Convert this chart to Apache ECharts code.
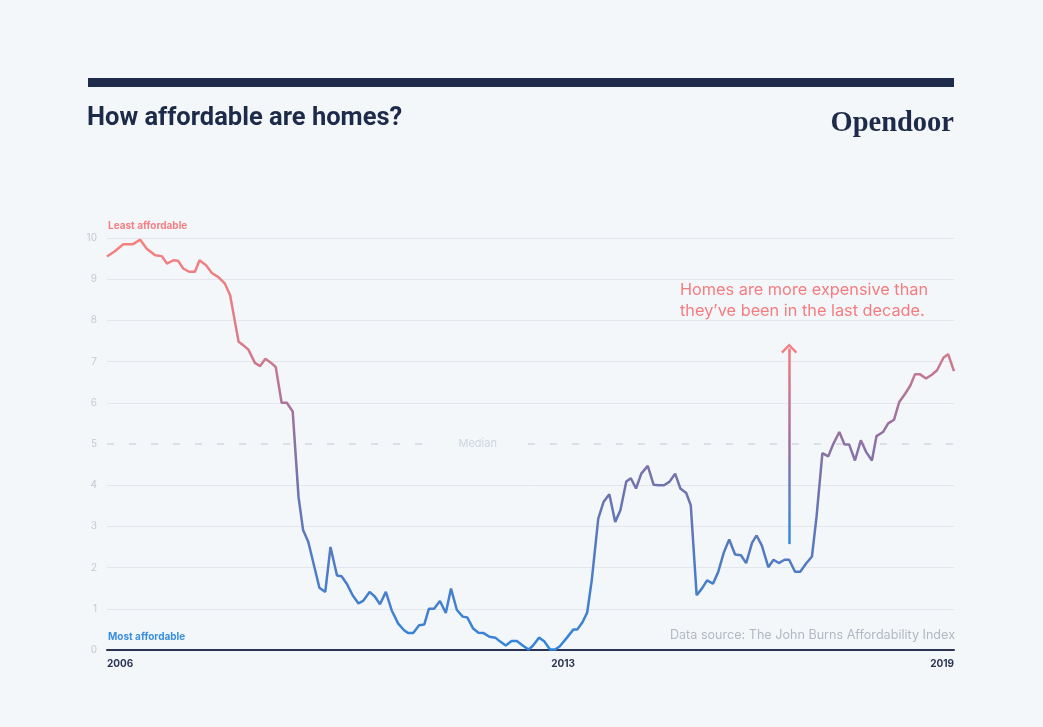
<!DOCTYPE html>
<html><head><meta charset="utf-8">
<script src="https://cdn.jsdelivr.net/npm/echarts@6/dist/echarts.min.js"></script>
<style>html,body{margin:0;padding:0;background:#f4f7fa;}#c{width:1043px;height:727px;}</style>
</head><body><div id="c"></div>
<script>
// Decimal years of each reading (Jan 2006 .. Jan 2019)
const dates = [
2006.00,2006.12,2006.25,2006.40,2006.51,2006.61,2006.74,2006.84,2006.92,2007.02,
2007.09,2007.17,2007.26,2007.35,2007.42,2007.52,2007.61,2007.71,2007.81,2007.89,
2007.96,2008.02,2008.09,2008.17,2008.27,2008.35,2008.43,2008.51,2008.59,2008.68,
2008.76,2008.85,2008.94,2009.01,2009.09,2009.17,2009.26,2009.35,2009.43,2009.53,
2009.60,2009.68,2009.77,2009.86,2009.93,2010.03,2010.11,2010.19,2010.28,2010.37,
2010.47,2010.56,2010.62,2010.70,2010.79,2010.87,2010.94,2011.02,2011.11,2011.20,
2011.28,2011.37,2011.46,2011.53,2011.62,2011.70,2011.78,2011.87,2011.96,2012.03,
2012.12,2012.21,2012.29,2012.38,2012.47,2012.54,2012.63,2012.71,2012.80,2012.88,
2012.95,2013.06,2013.16,2013.22,2013.30,2013.37,2013.44,2013.54,2013.62,2013.71,
2013.80,2013.88,2013.97,2014.04,2014.12,2014.20,2014.30,2014.39,2014.47,2014.55,
2014.63,2014.72,2014.80,2014.89,2014.96,2015.05,2015.13,2015.21,2015.30,2015.38,
2015.47,2015.55,2015.64,2015.73,2015.81,2015.90,2015.97,2016.05,2016.15,2016.23,
2016.31,2016.40,2016.47,2016.56,2016.64,2016.73,2016.82,2016.89,2016.98,2017.07,
2017.15,2017.24,2017.32,2017.39,2017.48,2017.57,2017.65,2017.74,2017.81,2017.91,
2017.99,2018.08,2018.16,2018.25,2018.33,2018.40,2018.48,2018.57,2018.66,2018.74,
2018.84,2018.91,2019.00
];
// John Burns Affordability Index readings
const values = [
9.55,9.68,9.85,9.85,9.96,9.74,9.58,9.56,9.38,9.46,
9.45,9.26,9.18,9.18,9.46,9.34,9.15,9.05,8.89,8.61,
8.00,7.48,7.40,7.29,6.97,6.89,7.07,6.98,6.87,6.00,
6.00,5.79,3.71,2.91,2.62,2.10,1.51,1.41,2.50,1.81,
1.79,1.61,1.33,1.13,1.19,1.41,1.30,1.11,1.41,0.96,
0.64,0.48,0.41,0.41,0.60,0.62,1.00,1.00,1.19,0.90,
1.49,0.97,0.81,0.79,0.52,0.42,0.41,0.32,0.30,0.21,
0.11,0.22,0.22,0.11,0.01,0.11,0.30,0.21,0.01,0.01,
0.09,0.30,0.50,0.50,0.68,0.91,1.69,3.19,3.59,3.78,
3.11,3.39,4.09,4.17,3.92,4.28,4.47,4.01,4.00,4.00,
4.08,4.28,3.92,3.81,3.51,1.33,1.49,1.69,1.61,1.89,
2.38,2.68,2.32,2.30,2.11,2.60,2.78,2.54,2.01,2.19,
2.11,2.19,2.19,1.90,1.90,2.10,2.27,3.23,4.78,4.70,
5.01,5.29,4.99,4.99,4.60,5.09,4.81,4.60,5.19,5.29,
5.50,5.59,6.02,6.22,6.42,6.69,6.69,6.59,6.68,6.79,
7.10,7.18,6.77
];
const xTickYears = [2006, 2013, 2019];
const yMin = 0, yMax = 10, yStep = 1;
const medianValue = 5;
const medianGap = [2010.99, 2012.46];
const medianLabelYear = 2011.69;
const arrowYear = 2016.47;
const arrowFrom = 2.57, arrowTo = 7.32;

const chart = echarts.init(document.getElementById('c'));
const gridColors = [];
for (let v = yMin; v <= yMax; v += yStep) gridColors.push(v === medianValue ? 'rgba(0,0,0,0)' : '#e3e7ed');

const lineGrad = new echarts.graphic.LinearGradient(0, 0, 0, 1, [
  {offset: 0, color: '#f5817f'},
  {offset: 0.25, color: '#de7b88'},
  {offset: 0.45, color: '#9a72a0'},
  {offset: 0.6, color: '#6f73ae'},
  {offset: 0.8, color: '#4d7cc6'},
  {offset: 1, color: '#3386db'}
]);
const arrowGrad = new echarts.graphic.LinearGradient(0, 0, 0, 1, [
  {offset: 0, color: '#f47c80'},
  {offset: 0.5, color: '#9b70a2'},
  {offset: 1, color: '#2d8ce2'}
]);
const chevron = 'path://M0,8 L8,0 L16,8 L14.4,9.6 L8,3.2 L1.6,9.6 Z';

chart.setOption({
  animation: false,
  backgroundColor: '#f4f7fa',
  title: [
    {text: 'How affordable are homes?', left: 87, top: 106, padding: 0,
     textStyle: {fontFamily: 'Roboto', fontSize: 25.5, fontWeight: 700, color: '#1d2a49'}},
    {text: 'Opendoor', right: 89, top: 109, padding: 0,
     textStyle: {fontFamily: 'Liberation Serif', fontSize: 28.5, fontWeight: 700, color: '#1d2a49'}}
  ],
  grid: {left: 107, right: 89, top: 238, bottom: 77},
  xAxis: {
    type: 'value', min: xTickYears[0], max: xTickYears[xTickYears.length - 1], interval: 1,
    axisLine: {show: true, lineStyle: {color: '#2b3452', width: 2}},
    axisTick: {show: false},
    splitLine: {show: false},
    axisLabel: {
      formatter: v => xTickYears.includes(v) ? String(v) : '',
      alignMinLabel: 'left', alignMaxLabel: 'right',
      color: '#2b3452', fontWeight: 700, fontSize: 10, fontFamily: 'Inter', margin: 9
    }
  },
  yAxis: {
    type: 'value', min: yMin, max: yMax, interval: yStep,
    axisLine: {show: false}, axisTick: {show: false},
    axisLabel: {color: '#c4c9d2', fontSize: 10, fontFamily: 'Inter', margin: 10},
    splitLine: {show: true, lineStyle: {color: gridColors, width: 1}}
  },
  series: [{
    type: 'line',
    data: dates.map((d, i) => [d, values[i]]),
    showSymbol: false,
    lineStyle: {width: 2.5, color: lineGrad},
    z: 5,
    markLine: {
      silent: true,
      symbol: 'none',
      label: {show: false},
      data: [
        [{coord: [xTickYears[0], medianValue], lineStyle: {color: '#d2d7df', type: [7, 15], width: 1.5}},
         {coord: [medianGap[0], medianValue]}],
        [{coord: [medianGap[1], medianValue], lineStyle: {color: '#d2d7df', type: [7, 15], width: 1.5}},
         {coord: [xTickYears[xTickYears.length - 1], medianValue]}],
        [{coord: [arrowYear, arrowFrom], symbol: 'none', lineStyle: {color: arrowGrad, type: 'solid', width: 2.5}},
         {coord: [arrowYear, arrowTo - 0.05], symbol: 'none'}],
        [{coord: [arrowYear, arrowTo - 0.1], symbol: 'none', lineStyle: {color: '#f47c80', type: 'solid', width: 2.5}},
         {coord: [arrowYear, arrowTo], symbol: chevron, symbolSize: [16, 10], symbolOffset: [0, 0]}]
      ]
    },
    markPoint: {
      silent: true,
      symbol: 'circle', symbolSize: 0,
      itemStyle: {color: 'rgba(0,0,0,0)'},
      label: {show: true, position: 'inside', formatter: 'Median', color: '#cdd3dd', fontSize: 11, fontFamily: 'Inter'},
      data: [{coord: [medianLabelYear, medianValue]}]
    }
  }],
  graphic: [
    {type: 'rect', left: 88, top: 78, shape: {width: 866, height: 9}, style: {fill: '#1e2b4b'}},
    {type: 'text', left: 108, top: 221, style: {text: 'Least affordable', fill: '#f47f84', font: 'bold 10px Inter'}},
    {type: 'text', left: 108, top: 632, style: {text: 'Most affordable', fill: '#3a8fe0', font: 'bold 10px Inter'}},
    {type: 'text', left: 680, top: 280, style: {text: 'Homes are more expensive than\nthey\u2019ve been in the last decade.', fill: '#f47c80', font: '16.3px Inter', lineHeight: 21}},
    {type: 'text', right: 88, top: 629, style: {text: 'Data source: The John Burns Affordability Index', fill: '#b2b7c1', font: '12.6px Inter'}}
  ]
});
</script>
</body></html>
